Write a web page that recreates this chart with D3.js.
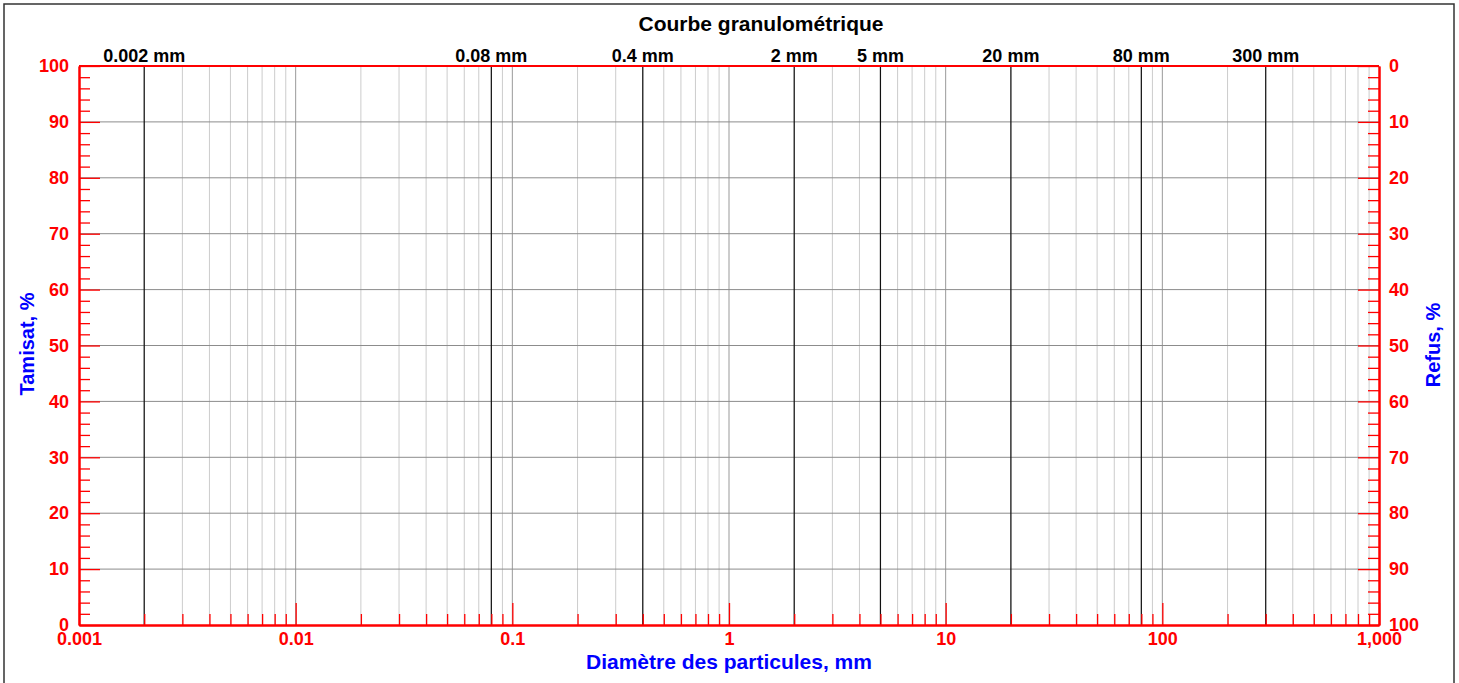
<!DOCTYPE html>
<html>
<head>
<meta charset="utf-8">
<script src="https://cdn.jsdelivr.net/npm/d3@7"></script>
<style>
  body { margin: 0; background: white; }
  svg text { font-family: "Liberation Sans", Arial, sans-serif; font-weight: bold; }
</style>
</head>
<body>
<div class="mainVis"></div>
<script>
// axis values
var decades = [0.001, 0.01, 0.1, 1, 10, 100, 1000]
var sieveSizes = [0.002, 0.08, 0.4, 2, 5, 20, 80, 300]
var pctMajor = [0, 10, 20, 30, 40, 50, 60, 70, 80, 90, 100]
var pctMinor = [2, 4, 6, 8, 12, 14, 16, 18, 22, 24, 26, 28, 32, 34, 36, 38, 42, 44, 46, 48,
                52, 54, 56, 58, 62, 64, 66, 68, 72, 74, 76, 78, 82, 84, 86, 88, 92, 94, 96, 98]

var width = 1459, height = 683
var plotLeft = 79, plotRight = 1379, plotTop = 66, plotBottom = 625
var red = "#ff0000", blue = "#0000ff"

var svg = d3.select(".mainVis")
    .append("svg")
    .attr("width", width)
    .attr("height", height)

// outer frame
svg.append("rect")
    .attr("x", 4).attr("y", 4)
    .attr("width", 1450).attr("height", 700)
    .attr("fill", "white")
    .attr("stroke", "#333")
    .attr("stroke-width", 1.5)

var x = d3.scaleLog().domain([0.001, 1000]).range([plotLeft, plotRight])
var y = d3.scaleLinear().domain([0, 100]).range([plotBottom, plotTop])
var y2 = d3.scaleLinear().domain([100, 0]).range([plotBottom, plotTop])

// vertical grid (1..9 per decade)
var minorX = x.ticks().filter(function(d) { return decades.indexOf(d) < 0 })
svg.append("g").selectAll("line")
    .data(minorX)
    .enter().append("line")
    .attr("x1", function(d) { return x(d) }).attr("x2", function(d) { return x(d) })
    .attr("y1", plotTop).attr("y2", plotBottom)
    .attr("stroke", "#cccccc")
    .attr("stroke-width", 1)

svg.append("g").selectAll("line")
    .data(decades.slice(1, -1))
    .enter().append("line")
    .attr("x1", function(d) { return x(d) }).attr("x2", function(d) { return x(d) })
    .attr("y1", plotTop).attr("y2", plotBottom)
    .attr("stroke", "#999")
    .attr("stroke-width", 1)

// horizontal grid
svg.append("g").selectAll("line")
    .data(pctMajor.slice(1, -1))
    .enter().append("line")
    .attr("x1", plotLeft).attr("x2", plotRight)
    .attr("y1", function(d) { return y(d) }).attr("y2", function(d) { return y(d) })
    .attr("stroke", "#8c8c8c")
    .attr("stroke-width", 1)

// sieve lines + labels on top
svg.append("g").selectAll("line")
    .data(sieveSizes)
    .enter().append("line")
    .attr("x1", function(d) { return x(d) }).attr("x2", function(d) { return x(d) })
    .attr("y1", plotTop).attr("y2", plotBottom)
    .attr("stroke", "#111")
    .attr("stroke-width", 1.2)

svg.append("g").selectAll("text")
    .data(sieveSizes)
    .enter().append("text")
    .attr("x", function(d) { return x(d) })
    .attr("y", 62)
    .attr("text-anchor", "middle")
    .attr("font-size", 18)
    .attr("fill", "black")
    .text(function(d) { return d + " mm" })

// axes
function styleAxis(g) {
    g.selectAll("line").attr("stroke", red).attr("stroke-width", 1.3)
    g.selectAll("path").attr("stroke", red).attr("stroke-width", 2)
    g.selectAll("text").attr("fill", red).attr("font-size", 18)
        .style("font-family", "'Liberation Sans', Arial, sans-serif").style("font-weight", "bold")
}

svg.append("g")
    .attr("transform", "translate(" + plotLeft + ",0)")
    .call(d3.axisLeft(y).tickValues(pctMinor).tickSize(-11).tickSizeOuter(0).tickFormat(""))
    .call(styleAxis)
svg.append("g")
    .attr("transform", "translate(" + plotLeft + ",0)")
    .call(d3.axisLeft(y).tickValues(pctMajor).tickSize(-21).tickSizeOuter(0).tickPadding(10))
    .call(styleAxis)

svg.append("g")
    .attr("transform", "translate(" + plotRight + ",0)")
    .call(d3.axisRight(y2).tickValues(pctMinor).tickSize(-11).tickSizeOuter(0).tickFormat(""))
    .call(styleAxis)
svg.append("g")
    .attr("transform", "translate(" + plotRight + ",0)")
    .call(d3.axisRight(y2).tickValues(pctMajor).tickSize(-21).tickSizeOuter(0).tickPadding(10))
    .call(styleAxis)

svg.append("g")
    .attr("transform", "translate(0," + plotBottom + ")")
    .call(d3.axisBottom(x).tickValues(minorX).tickSize(-11).tickSizeOuter(0).tickFormat(""))
    .call(styleAxis)
svg.append("g")
    .attr("transform", "translate(0," + plotBottom + ")")
    .call(d3.axisBottom(x).tickValues(decades).tickSize(-22).tickSizeOuter(0).tickPadding(7)
        .tickFormat(d3.format(",")))
    .call(styleAxis)

// top border of plot
svg.append("line")
    .attr("x1", plotLeft).attr("x2", plotRight)
    .attr("y1", plotTop).attr("y2", plotTop)
    .attr("stroke", red).attr("stroke-width", 2)

// titles
svg.append("text")
    .attr("x", 761).attr("y", 31)
    .attr("text-anchor", "middle")
    .attr("font-size", 21)
    .attr("fill", "black")
    .text("Courbe granulométrique")

svg.append("text")
    .attr("x", 729).attr("y", 669)
    .attr("text-anchor", "middle")
    .attr("font-size", 21)
    .attr("fill", blue)
    .text("Diamètre des particules, mm")

svg.append("text")
    .attr("transform", "translate(34,344) rotate(-90)")
    .attr("text-anchor", "middle")
    .attr("font-size", 20)
    .attr("fill", blue)
    .text("Tamisat, %")

svg.append("text")
    .attr("transform", "translate(1440,345) rotate(-90)")
    .attr("text-anchor", "middle")
    .attr("font-size", 20)
    .attr("fill", blue)
    .text("Refus, %")
</script>
</body>
</html>
